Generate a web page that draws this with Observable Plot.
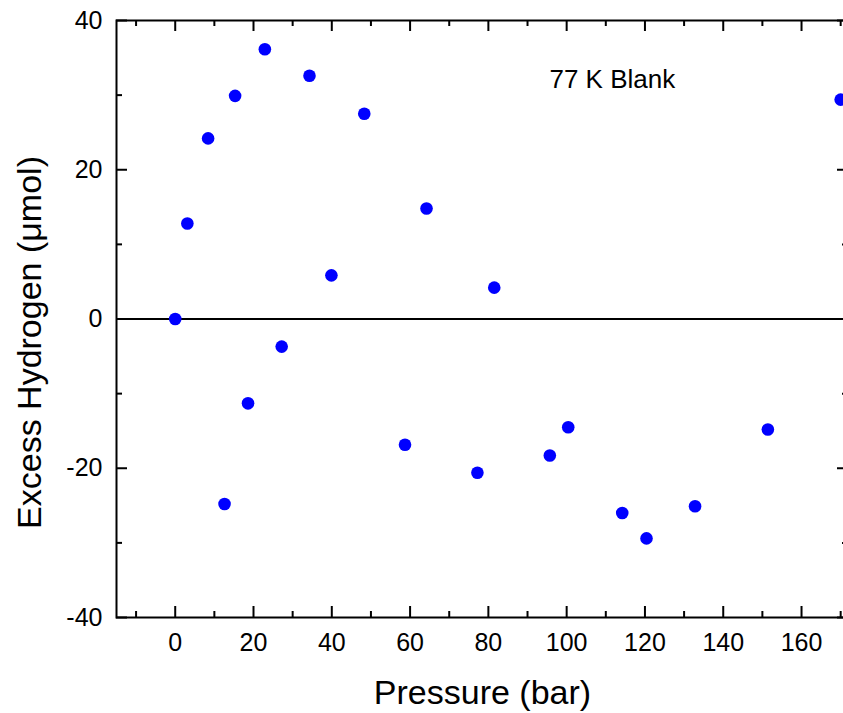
<!DOCTYPE html>
<html>
<head>
<meta charset="utf-8">
<script src="https://cdn.jsdelivr.net/npm/d3@7"></script>
<script src="https://cdn.jsdelivr.net/npm/@observablehq/plot@0.6"></script>
<style>
  html, body { margin: 0; padding: 0; background: #fff; overflow: hidden; }
  #chart svg { max-width: none !important; }
</style>
</head>
<body>
<div id="chart"></div>
<script>
// Data
const pressure = [0, 3.1, 8.4, 12.6, 15.3, 18.6, 22.9, 27.2, 34.3, 39.9, 48.3, 58.7, 64.2, 77.2, 81.5, 95.7, 100.4, 114.2, 120.4, 132.8, 151.4, 170];
const excess   = [0, 12.8, 24.2, -24.8, 29.9, -11.3, 36.15, -3.7, 32.6, 5.85, 27.5, -16.85, 14.8, -20.6, 4.2, -18.3, -14.5, -26.0, -29.4, -25.1, -14.8, 29.4];

const xMajorTicks = [0, 20, 40, 60, 80, 100, 120, 140, 160];
const xMinorTicks = [-10, 10, 30, 50, 70, 90, 110, 130, 150, 170];
const yMajorTicks = [-40, -20, 0, 20, 40];
const yMinorTicks = [-30, -10, 10, 30];

const xTitle = "Pressure (bar)";
const yTitle = "Excess Hydrogen (\u03bcmol)";
const annotations = [{label: "77 K Blank", x: 95.6, y: 31.0}];

const points = pressure.map((p, i) => ({p, e: excess[i]}));

const W = 855, H = 713;
const mL = 116, mR = 7, mT = 20, mB = 96;
const plotW = W - mL - mR, plotH = H - mT - mB;
const major = 11, minor = 6;
const font = "'Liberation Sans', Arial, Helvetica, sans-serif";

const chart = Plot.plot({
  width: W,
  height: H,
  marginLeft: mL,
  marginRight: mR,
  marginTop: mT,
  marginBottom: mB,
  style: {fontFamily: font, fontSize: "25px", color: "#000", background: "#fff", overflow: "visible", maxWidth: "none"},
  x: {domain: [-15, 172], label: null},
  y: {domain: [-40, 40], label: null},
  marks: [
    Plot.axisX(xMajorTicks, {tickSize: 0, tickPadding: 16, fontSize: 25, fill: "#000", label: null, tickFormat: d => String(d)}),
    Plot.axisY(yMajorTicks, {tickSize: 0, tickPadding: 14, fontSize: 25, fill: "#000", label: null, tickFormat: d => String(d)}),
    // inward ticks: bottom & top
    Plot.ruleX(xMajorTicks, {x: d => d, insetTop: plotH - major, stroke: "#000", strokeWidth: 2}),
    Plot.ruleX(xMinorTicks, {x: d => d, insetTop: plotH - minor, stroke: "#000", strokeWidth: 2}),
    Plot.ruleX(xMajorTicks, {x: d => d, insetBottom: plotH - major, stroke: "#000", strokeWidth: 2}),
    Plot.ruleX(xMinorTicks, {x: d => d, insetBottom: plotH - minor, stroke: "#000", strokeWidth: 2}),
    // inward ticks: left & right
    Plot.ruleY(yMajorTicks, {y: d => d, insetRight: plotW - major, stroke: "#000", strokeWidth: 2}),
    Plot.ruleY(yMinorTicks, {y: d => d, insetRight: plotW - minor, stroke: "#000", strokeWidth: 2}),
    Plot.ruleY(yMajorTicks, {y: d => d, insetLeft: plotW - major, stroke: "#000", strokeWidth: 2}),
    Plot.ruleY(yMinorTicks, {y: d => d, insetLeft: plotW - minor, stroke: "#000", strokeWidth: 2}),
    Plot.frame({stroke: "#000", strokeWidth: 2}),
    Plot.ruleY([0], {stroke: "#000", strokeWidth: 2.2}),
    Plot.dot(points, {x: "p", y: "e", r: 6.3, fill: "#0000ff", stroke: null}),
    Plot.text(annotations, {x: "x", y: "y", text: "label", textAnchor: "start", lineAnchor: "bottom", fontSize: 26, fill: "#000"}),
    Plot.text([xTitle], {text: d => d, frameAnchor: "bottom", dy: 86, lineAnchor: "bottom", textAnchor: "middle", fontSize: 34, fill: "#000"}),
    Plot.text([yTitle], {text: d => d, frameAnchor: "left", rotate: -90, dx: -76, dy: 23.5, lineAnchor: "bottom", textAnchor: "middle", fontSize: 34, fill: "#000"})
  ]
});
document.getElementById("chart").appendChild(chart);
</script>
</body>
</html>
